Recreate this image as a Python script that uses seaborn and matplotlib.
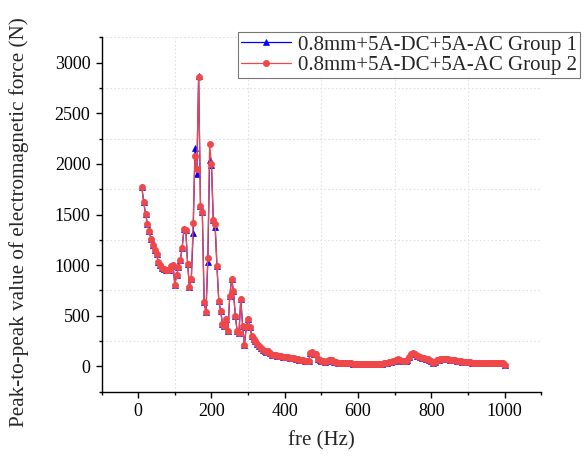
import numpy as np
import pandas as pd
import matplotlib
matplotlib.use("Agg")
import matplotlib.pyplot as plt
from matplotlib.ticker import MultipleLocator
import seaborn as sns

# frequency grid (Hz), 5 Hz steps
freq = np.arange(10, 1005, 5)

# Group 2 (red) values
head_vals = [
    1772, 1620, 1510, 1410, 1335, 1262, 1195, 1150, 1110, 1030,   # 10-55
    1005, 975, 958, 950, 948, 950, 995, 1005, 808, 904,           # 60-105
    980, 1053, 1172, 1360, 1343, 1010, 782, 868, 1416, 2082,      # 110-155
    1950, 2855, 1584, 1525, 634, 535, 1073, 2195, 2003, 1442,     # 160-205
    1409, 990, 644, 551, 419, 403, 469, 353, 700, 861,            # 210-255
    749, 502, 353, 327, 663, 403, 215, 386, 469, 386,             # 260-305
    304, 271, 248, 221, 198, 178, 162, 155, 145, 149,             # 310-355
    132, 116, 112,                                                # 360-370
]
tail_vals = [
    108, 105, 103, 100, 97, 94, 91, 88, 85, 81,                   # 375-420
    78, 75, 71, 67, 63, 59, 55, 51, 48, 132,                      # 425-470
    139, 122, 126, 70, 58, 52, 48, 47, 52, 58,                    # 475-520
    64, 66, 44, 40, 38, 36, 35, 34, 33, 32,                       # 525-570
    31, 30, 28, 27, 26, 25, 23, 22, 21, 20,                       # 575-620
    20, 19, 19, 19, 19, 20, 21, 23, 26, 30,                       # 625-670
    34, 38, 42, 47, 52, 57, 64, 73, 62, 50,                       # 675-720
    48, 52, 62, 95, 120, 132, 118, 105, 98, 92,                   # 725-770
    87, 80, 74, 68, 60, 48, 30, 42, 62, 66,                       # 775-820
    68, 70, 72, 71, 69, 66, 64, 62, 58, 55,                       # 825-870
    52, 49, 46, 44, 42, 40, 39, 38, 37, 36,                       # 875-920
    35, 34, 34, 33, 33, 33, 33, 33, 33, 34,                       # 925-970
    34, 35, 35, 36, 34, 18,                                       # 975-1000
]
group2 = np.array(head_vals + tail_vals, dtype=float)

# Group 1 (blue) differs from group 2 only at a few peaks
group1_diff = {150: 1317, 155: 2158, 160: 1898, 165: 2868,
               190: 1030, 195: 2043, 200: 1990, 210: 1380}
group1 = group2.copy()
for f, v in group1_diff.items():
    group1[freq == f] = v

label1 = "0.8mm+5A-DC+5A-AC Group 1"
label2 = "0.8mm+5A-DC+5A-AC Group 2"

sns.set_theme(style="ticks")
plt.rcParams["font.family"] = ["Liberation Serif", "DejaVu Serif"]

fig = plt.figure(figsize=(5.87, 4.57), dpi=100)
ax = fig.add_axes([0.173, 0.143, 0.749, 0.775])

df = pd.DataFrame({"fre": freq, "g1": group1, "g2": group2})

sns.lineplot(data=df, x="fre", y="g1", ax=ax, color="#0000ff", lw=0.9,
             marker="^", markersize=4.5, markeredgecolor="#0000ff",
             markeredgewidth=0.5, estimator=None, label=label1)
sns.lineplot(data=df, x="fre", y="g2", ax=ax, color="#f04848", lw=0.9,
             marker="o", markersize=4.5, markeredgecolor="#f04848",
             markeredgewidth=0.5, estimator=None, label=label2)

ax.set_xlim(-100, 1100)
ax.set_ylim(-250, 3250)
ax.xaxis.set_major_locator(MultipleLocator(200))
ax.xaxis.set_minor_locator(MultipleLocator(100))
ax.yaxis.set_major_locator(MultipleLocator(500))
ax.yaxis.set_minor_locator(MultipleLocator(250))
ax.tick_params(which="major", direction="out", length=4.5, width=1,
               labelsize=13, color="black", labelcolor="black")
ax.tick_params(which="minor", direction="out", length=2.5, width=1, color="black")

ax.grid(False)
ax.grid(which="minor", color="#e0e0e0", linestyle=(0, (1.5, 2)), linewidth=0.8)

sns.despine(ax=ax)
for side in ["left", "bottom"]:
    ax.spines[side].set_color("black")
    ax.spines[side].set_linewidth(1)

ax.set_xlabel("fre (Hz)", fontsize=15, labelpad=8)
ax.set_ylabel("Peak-to-peak value of electromagnetic force (N)", fontsize=15.2)
ax.yaxis.set_label_coords(-0.165, 0.48)

leg = ax.legend(loc="upper left", bbox_to_anchor=(0.405, 0.93),
                bbox_transform=fig.transFigure, fontsize=15, frameon=True,
                fancybox=False, handlelength=2.4, handletextpad=0.35,
                borderpad=0.15, labelspacing=0.05, borderaxespad=0)
leg.get_frame().set_edgecolor("#555555")
leg.get_frame().set_linewidth(0.8)

fig.savefig("out.png", dpi=100)
